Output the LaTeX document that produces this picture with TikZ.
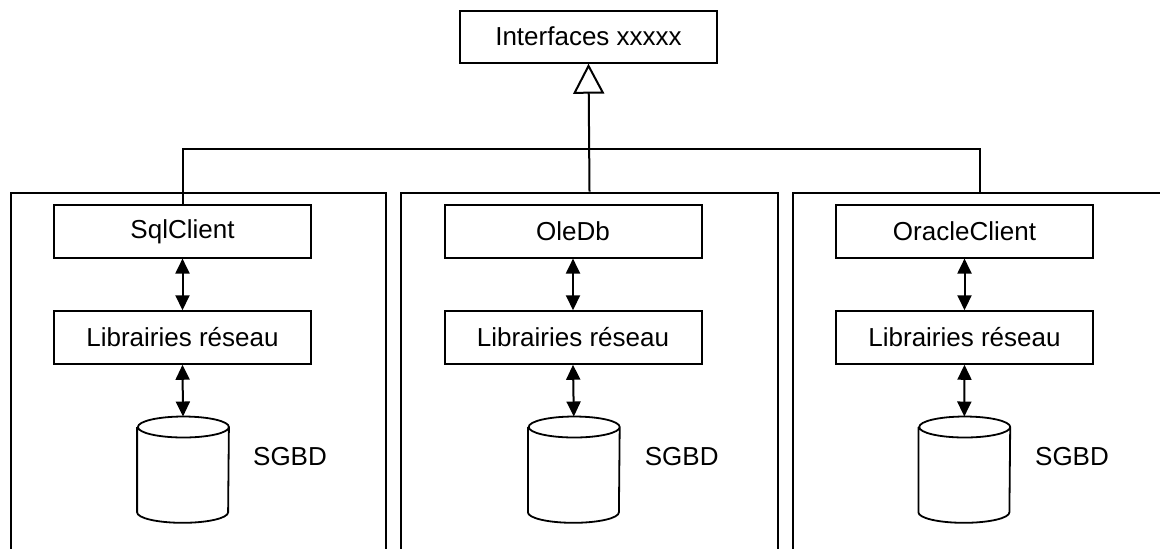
\documentclass[tikz,border=0pt]{standalone}
\usepackage{fontspec}
\setmainfont{Liberation Sans}
\usetikzlibrary{arrows.meta}

\begin{document}
\begin{tikzpicture}[x=0.5pt, y=-0.5pt,
  every node/.style={font=\fontsize{13pt}{15pt}\selectfont, text=black, inner sep=0pt},
  layerbox/.style={draw, line width=1pt, minimum width=128.5pt, minimum height=26.25pt},
  panel/.style={draw, line width=1pt, anchor=north west, minimum height=200pt},
  dbslot/.style={minimum width=45.5pt, minimum height=52.75pt, anchor=north},
  link/.style={line width=1pt, {Triangle[length=7.5pt,width=7pt]}-{Triangle[length=7.5pt,width=7pt]}},
  realize/.style={line width=1pt, -{Triangle[open, length=15pt, width=15.5pt]}},
  wire/.style={line width=1pt}
]
\useasboundingbox (0,0) rectangle (1160,548);
\clip (0,0) rectangle (1160,548);

% provider panels (cut off at the lower edge)
\node[panel, minimum width=187.5pt] (sqlpanel) at (9.5,191.7) {};
\node[panel, minimum width=188.5pt] (olepanel) at (400,191.7) {};
\node[panel, minimum width=187pt]   (orapanel) at (792,191.7) {};

% common interface
\node[layerbox, minimum height=26pt] (iface) at (588.5,36.7) {Interfaces xxxxx};

% provider layers
\node[layerbox] (sql)    at (182.5,231.3) {SqlClient};
\node[layerbox] (sqllib) at (182.5,337.5) {Librairies réseau};
\node[layerbox] (ole)    at (573,231.3)   {OleDb};
\node[layerbox] (olelib) at (573,337.5)   {Librairies réseau};
\node[layerbox] (ora)    at (964.5,231.3) {OracleClient};
\node[layerbox] (oralib) at (964.5,337.5) {Librairies réseau};

% database slots
\node[dbslot] (sqldb) at (183,416.5) {};
\node[dbslot] (oledb) at (573.8,416.5) {};
\node[dbslot] (oradb) at (964.3,416.5) {};

\foreach \d in {sqldb, oledb, oradb}{
  \draw[wire, line width=0.9pt]
    ([yshift=-5.25pt]\d.north west) -- ([yshift=5.25pt]\d.south west)
    arc[start angle=180, end angle=360, x radius=22.75pt, y radius=5.25pt]
    -- ([yshift=-5.25pt]\d.north east)
    arc[start angle=0, end angle=360, x radius=22.75pt, y radius=5.25pt];
}

\node at (290,457)    {SGBD};
\node at (681.7,457)  {SGBD};
\node at (1072,457)   {SGBD};

% layer links
\draw[link] (sql.south) -- (sqllib.north);
\draw[link] (sqllib.south) -- (sqldb.north);
\draw[link] (ole.south) -- (olelib.north);
\draw[link] (olelib.south) -- (oledb.north);
\draw[link] (ora.south) -- (oralib.north);
\draw[link] (oralib.south) -- (oradb.north);

% realization of the interface
\draw[wire] (sql.north) -- ++(0,-55) -| (orapanel.north);
\draw[realize] (olepanel.north) -- (iface.south);
\end{tikzpicture}
\end{document}
